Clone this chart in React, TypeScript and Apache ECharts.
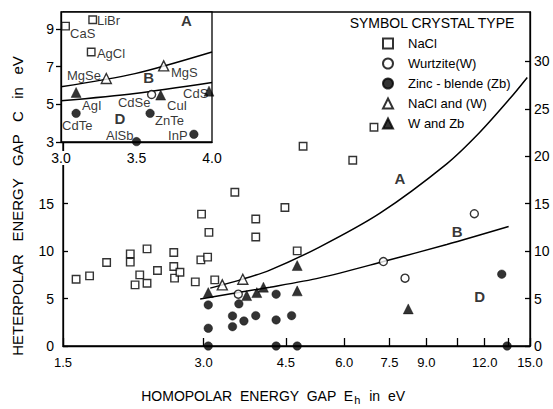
import React, { useEffect, useRef } from "react";
import * as echarts from "echarts";

// ---------- axis ticks / labels ----------
const xTicks = [1.5, 3.0, 4.5, 6.0, 7.5, 9.0, 10.5, 12.0, 13.5, 15.0];
const xTickLabels = [1.5, 3.0, 4.5, 6.0, 7.5, 9.0, 12.0, 15.0];
const leftYLabels = [0, 5, 10, 15];
const rightYLabels = [0, 5, 10, 15, 20, 25, 30];
const insetXLabels = [3.0, 3.5, 4.0];
const insetYLabels = [3, 5, 7, 9];

// ---------- main plot data [Eh, C] ----------
const naclMain = [
  [1.6, 7.04], [1.71, 7.39], [1.86, 8.8], [2.09, 9.71], [2.09, 8.84], [2.27, 10.24],
  [2.19, 7.5], [2.14, 6.44], [2.27, 6.62], [2.39, 7.95], [2.59, 9.85], [2.59, 8.38],
  [2.6, 7.15], [2.67, 7.78], [2.88, 6.76], [2.96, 9.08], [3.06, 9.37], [2.97, 13.9],
  [3.08, 11.97], [3.17, 6.97], [3.5, 16.2], [3.88, 13.38], [3.88, 11.48], [4.48, 14.6],
  [4.76, 10.03], [4.9, 21.05], [6.26, 19.57], [6.95, 23.05],
];
const wurtziteMain = [[3.56, 5.46], [7.28, 8.9], [8.1, 7.15], [11.4, 13.94]];
const zincBlendeMain = [
  [3.07, 4.33], [3.57, 4.44], [4.29, 5.46], [3.46, 3.17], [3.88, 3.2], [4.63, 3.2],
  [3.66, 2.64], [4.29, 2.75], [3.46, 2.04], [3.07, 1.87], [3.07, 0], [4.29, 0],
  [4.76, 0], [13.05, 7.57], [13.4, 0],
];
const naclWMain = [[3.29, 6.44], [3.64, 7.04]];
const wZbMain = [
  [3.07, 5.63], [3.71, 5.31], [3.9, 5.63], [4.03, 6.2], [4.76, 8.48], [4.76, 5.81], [8.23, 3.91],
];
const curveA = [
  [3.1, 6.1], [3.64, 7.05], [4.16, 8.0], [5.3, 10.4], [7.16, 14.0],
  [9.95, 19.2], [11.7, 22.5], [13.6, 26.1], [14.8, 28.3],
];
const curveB = [[2.95, 4.96], [4.16, 6.2], [5.32, 7.18], [7.28, 8.9], [9.95, 10.7], [13.5, 12.6]];
const regionLabelsMain = [[7.9, 17.7, "A"], [10.47, 12.07, "B"], [11.7, 5.17, "D"]];

// ---------- inset data ----------
const naclInset = [[3.03, 9.15], [3.21, 9.49], [3.2, 7.78]];
const wurtziteInset = [[3.6, 5.52]];
const zincBlendeInset = [[3.1, 4.52], [3.59, 4.52], [3.5, 3.02], [3.88, 3.41]];
const naclWInset = [[3.3, 6.37], [3.68, 7.04]];
const wZbInset = [[3.1, 5.63], [3.66, 5.49], [3.98, 5.7]];
const insetUpper = [[3.0, 5.93], [3.49, 6.63], [4.0, 7.78]];
const insetLower = [[3.0, 5.19], [3.49, 5.58], [4.0, 6.16]];
const regionLabelsInset = [[3.83, 9.45, "A"], [3.58, 6.44, "B"], [3.39, 4.27, "D"]];
const compoundLabels = [
  [3.238, 9.455, "LiBr"], [3.06, 8.77, "CaS"], [3.238, 7.71, "AgCl"], [3.04, 6.54, "MgSe"],
  [3.728, 6.7, "MgS"], [3.808, 5.59, "CdS"], [3.377, 5.12, "CdSe"], [3.702, 4.96, "CuI"],
  [3.139, 4.96, "AgI"], [3.007, 3.85, "CdTe"], [3.623, 4.14, "ZnTe"], [3.298, 3.37, "AlSb"],
  [3.709, 3.35, "InP"],
];

const legendNames = ["NaCl", "Wurtzite(W)", "Zinc - blende (Zb)", "NaCl and (W)", "W and Zb"];

const FONT = "Liberation Sans";
const INK = "#000";

export default function App() {
  const ref = useRef<HTMLDivElement>(null);

  useEffect(() => {
    document.body.style.margin = "0";
    const chart = echarts.init(ref.current!, null, { renderer: "svg" });

    const styles: any = {
      nacl: { symbol: "rect", symbolSize: 7.5, itemStyle: { color: "#fff", borderColor: INK, borderWidth: 1.4 } },
      wurtz: { symbol: "circle", symbolSize: 8, itemStyle: { color: "#fff", borderColor: INK, borderWidth: 1.4 } },
      zb: { symbol: "circle", symbolSize: 8.5, itemStyle: { color: INK, borderColor: INK, borderWidth: 0.5 } },
      naclw: { symbol: "triangle", symbolSize: 10, itemStyle: { color: "#fff", borderColor: INK, borderWidth: 1.4 } },
      wzb: { symbol: "triangle", symbolSize: 10, itemStyle: { color: INK, borderColor: INK, borderWidth: 0.5 } },
    };

    const scatter = (name: string, st: any, data: any[], inset: boolean) => ({
      name,
      type: "scatter",
      xAxisIndex: inset ? 1 : 0,
      yAxisIndex: inset ? 2 : 0,
      data,
      clip: false,
      z: inset ? 12 : 3,
      ...st,
    });

    const line = (data: any[], inset: boolean) => ({
      type: "line",
      xAxisIndex: inset ? 1 : 0,
      yAxisIndex: inset ? 2 : 0,
      data,
      smooth: 0.3,
      showSymbol: false,
      symbol: "none",
      silent: true,
      lineStyle: { color: INK, width: 1.5 },
      z: inset ? 11 : 2,
    });

    const textSeries = (data: any[], inset: boolean, pos: string, size: number, weight: string) => ({
      type: "scatter",
      xAxisIndex: inset ? 1 : 0,
      yAxisIndex: inset ? 2 : 0,
      data,
      symbolSize: 0,
      silent: true,
      clip: false,
      z: inset ? 13 : 4,
      label: {
        show: true,
        position: pos,
        distance: 0,
        formatter: (p: any) => p.data[2],
        color: INK,
        fontSize: size,
        fontWeight: weight,
        fontFamily: FONT,
      },
    });

    const axisText = { color: INK, fontFamily: FONT, fontSize: 13 };
    const lineStyle = { color: INK, width: 1.3 };

    chart.setOption({
      animation: false,
      backgroundColor: "#fff",
      grid: [
        { left: 63, right: 23, top: 12, bottom: 63, show: true, borderColor: INK, borderWidth: 1.3, z: 0 },
        { left: 61, top: 12, width: 151, height: 130, show: true, backgroundColor: "#fff", borderColor: INK, borderWidth: 1.3, z: 8 },
      ],
      xAxis: [
        {
          gridIndex: 0, type: "log", logBase: 10, min: 1.5, max: 15,
          axisLine: { lineStyle },
          axisTick: { inside: true, length: 8, customValues: xTicks, lineStyle },
          axisLabel: { ...axisText, customValues: xTickLabels, formatter: (v: number) => v.toFixed(1), margin: 10 },
          splitLine: { show: false }, minorTick: { show: false },
        },
        {
          gridIndex: 1, type: "value", min: 3, max: 4, z: 9,
          axisLine: { lineStyle },
          axisTick: { show: false },
          axisLabel: { ...axisText, fontSize: 14, customValues: insetXLabels, formatter: (v: number) => v.toFixed(1), margin: 9, backgroundColor: "#fff" },
          splitLine: { show: false },
        },
      ],
      yAxis: [
        {
          gridIndex: 0, type: "value", min: 0, max: 35.2, position: "left",
          axisLine: { show: true, lineStyle },
          axisTick: { show: true, inside: true, length: 5, customValues: leftYLabels, lineStyle },
          axisLabel: { ...axisText, fontSize: 14, customValues: leftYLabels, margin: 9 },
          splitLine: { show: false },
        },
        {
          gridIndex: 0, type: "value", min: 0, max: 35.2, position: "right",
          axisLine: { show: true, lineStyle },
          axisTick: { show: true, inside: true, length: 5, customValues: rightYLabels, lineStyle },
          axisLabel: { ...axisText, fontSize: 14, customValues: rightYLabels, margin: 4 },
          splitLine: { show: false },
        },
        {
          gridIndex: 1, type: "value", min: 3, max: 9.9, z: 9,
          axisLine: { show: true, lineStyle },
          axisTick: { show: true, inside: false, length: 5, customValues: insetYLabels, lineStyle },
          axisLabel: { ...axisText, fontSize: 14, customValues: insetYLabels, margin: 7 },
          splitLine: { show: false },
        },
      ],
      legend: {
        data: legendNames,
        orient: "vertical",
        left: 382,
        top: 37,
        itemWidth: 10,
        itemHeight: 10,
        itemGap: 7,
        padding: 0,
        selectedMode: false,
        textStyle: { color: INK, fontFamily: FONT, fontSize: 13, padding: [0, 0, 0, 10] },
      },
      graphic: [
        {
          type: "text", x: 432, y: 23, z: 20,
          style: { text: "SYMBOL CRYSTAL TYPE", align: "center", verticalAlign: "middle", fill: INK, font: `14px "${FONT}"` },
        },
        {
          type: "text", x: 17, y: 206, rotation: Math.PI / 2, z: 20,
          style: {
            text: "HETERPOLAR   ENERGY   GAP   C   in   eV", align: "center", verticalAlign: "middle",
            fill: INK, font: `15px "${FONT}"`,
          },
        },
        {
          type: "text", x: 273, y: 396, z: 20,
          style: {
            text: "{t|HOMOPOLAR  ENERGY  GAP  E}{s|h}{t|  in  eV}", align: "center", verticalAlign: "middle",
            fill: INK,
            rich: {
              t: { fontFamily: FONT, fontSize: 14, fill: INK },
              s: { fontFamily: FONT, fontSize: 11, fill: INK, padding: [8, 1, 0, 1] },
            },
          },
        },
      ],
      series: [
        scatter(legendNames[0], styles.nacl, naclMain, false),
        scatter(legendNames[1], styles.wurtz, wurtziteMain, false),
        scatter(legendNames[2], styles.zb, zincBlendeMain, false),
        scatter(legendNames[3], styles.naclw, naclWMain, false),
        scatter(legendNames[4], styles.wzb, wZbMain, false),
        line(curveA, false),
        line(curveB, false),
        textSeries(regionLabelsMain, false, "inside", 15, "bold"),
        scatter(legendNames[0], styles.nacl, naclInset, true),
        scatter(legendNames[1], styles.wurtz, wurtziteInset, true),
        scatter(legendNames[2], styles.zb, zincBlendeInset, true),
        scatter(legendNames[3], styles.naclw, naclWInset, true),
        scatter(legendNames[4], styles.wzb, wZbInset, true),
        line(insetUpper, true),
        line(insetLower, true),
        textSeries(regionLabelsInset, true, "inside", 15, "bold"),
        textSeries(compoundLabels, true, "right", 13, "normal"),
      ],
    });

    return () => chart.dispose();
  }, []);

  return <div ref={ref} style={{ width: 553, height: 409 }} />;
}
